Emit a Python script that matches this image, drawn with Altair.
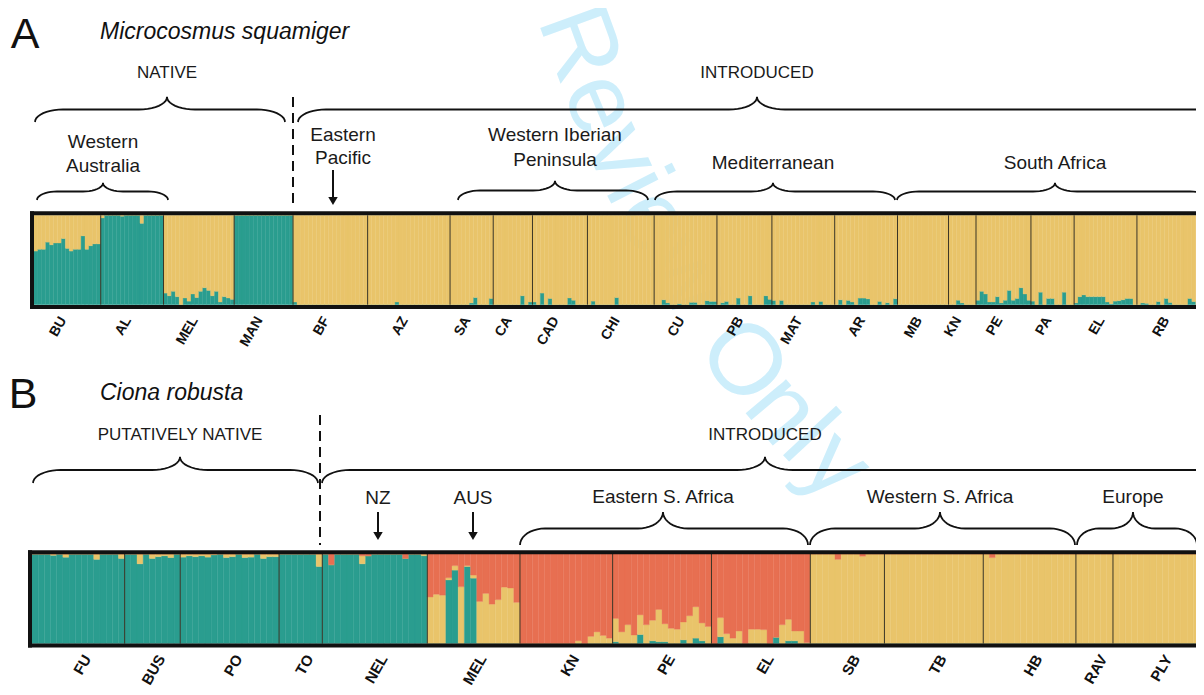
import altair as alt
import pandas as pd

# ---------------- colours ----------------
CLUSTERS = ["green", "yellow", "red"]
CLUSTER_COLORS = ["#2A9D8F", "#E9C46A", "#E76F51"]

# ---------------- Panel A: Microcosmus squamiger (K = 2) ----------------
A_pops = ["BU", "AL", "MEL", "MAN", "BF", "AZ", "SA", "CA", "CAD", "CHI",
          "CU", "PB", "MAT", "AR", "MB", "KN", "PE", "PA", "EL", "RB"]
# proportion of the green cluster for every individual (rest = yellow)
A_green = [
    [0.60, 0.62, 0.62, 0.70, 0.67, 0.69, 0.69, 0.74, 0.63, 0.60, 0.62, 0.62, 0.77, 0.62, 0.66, 0.68, 0.68],  # BU
    [0.97, 1, 1, 1, 1, 0.99, 1, 1, 1, 1, 0.91, 1, 1, 1, 1, 1],  # AL
    [0.13, 0.10, 0.15, 0.09, 0.0, 0.075, 0.04, 0.12, 0.08, 0.15, 0.19, 0.16, 0.10, 0.15, 0.03, 0.09, 0.075, 0.06],  # MEL
    [1, 1, 1, 1, 1, 1, 1, 1, 1, 1, 1, 1, 1, 1, 1],  # MAN
    [0.03, 0, 0, 0, 0, 0, 0, 0, 0, 0, 0, 0, 0, 0, 0, 0, 0, 0, 0],  # BF
    [0, 0, 0, 0, 0, 0, 0, 0.03, 0, 0, 0, 0, 0, 0, 0, 0, 0, 0, 0, 0, 0],  # AZ
    [0, 0, 0, 0, 0, 0.02, 0.08, 0, 0, 0, 0.07],  # SA
    [0, 0, 0, 0, 0, 0, 0, 0.10, 0, 0.03],  # CA
    [0.03, 0, 0.13, 0, 0.07, 0, 0, 0, 0, 0.075, 0.05, 0, 0, 0],  # CAD
    [0, 0.04, 0, 0, 0, 0, 0, 0.08, 0, 0, 0, 0, 0, 0, 0, 0, 0],  # CHI
    [0, 0, 0.055, 0.02, 0, 0, 0.01, 0, 0, 0.026, 0.026, 0, 0, 0.045, 0.037, 0.037],  # CU
    [0, 0.022, 0.037, 0, 0, 0.074, 0, 0, 0.10, 0, 0, 0, 0.10, 0.06],  # PB
    [0.048, 0, 0.048, 0, 0, 0, 0, 0, 0, 0, 0.03, 0, 0.037, 0, 0, 0],  # MAT
    [0, 0.055, 0, 0.048, 0.03, 0, 0.074, 0.074, 0.065, 0, 0, 0.037, 0, 0.022, 0, 0.067],  # AR
    [0, 0, 0, 0, 0, 0, 0, 0, 0, 0, 0, 0, 0],  # MB
    [0, 0, 0.05, 0.02, 0, 0, 0],  # KN
    [0.05, 0.15, 0.12, 0.03, 0.03, 0.09, 0.02, 0.05, 0.16, 0.05, 0.07, 0.19, 0.12, 0.05],  # PE
    [0.04, 0, 0.14, 0, 0.07, 0.07, 0, 0, 0.14, 0, 0],  # PA
    [0.02, 0.09, 0.11, 0.09, 0.09, 0.09, 0.09, 0.09, 0.03, 0.01, 0.04, 0.045, 0.055, 0.07, 0.07, 0],  # EL
    [0, 0.02, 0.015, 0, 0, 0.035, 0, 0.07, 0.025, 0, 0, 0, 0, 0.07, 0.035, 0, 0.05],  # RB
]

# ---------------- Panel B: Ciona robusta (K = 3) ----------------
B_pops = ["FU", "BUS", "PO", "TO", "NEL", "MEL", "KN", "PE", "EL",
          "SB", "TB", "HB", "RAV", "PLY"]
B_green = [
    [1, 1, 1, 0.985, 1, 0.965, 1, 1, 1, 1, 0.94, 1, 1, 1, 0.95],  # FU
    [1, 1, 0.89, 1, 0.95, 0.97, 0.98, 0.96, 1],  # BUS
    [0.965, 0.98, 0.97, 0.98, 0.965, 0.99, 1, 0.96, 0.97, 1, 0.96, 0.965, 1, 0.95, 0.97, 0.97],  # PO
    [1, 1, 1, 1, 1, 1, 0.86],  # TO
    [1, 0.88, 1, 1, 1, 1, 0.89, 0.98, 1, 1, 1, 1, 1, 0.95, 1, 1, 0.98],  # NEL
    [0, 0, 0, 0.71, 0.82, 0, 0.86, 0.73, 0, 0, 0, 0, 0, 0, 0],  # MEL
    [0, 0, 0, 0, 0, 0, 0, 0, 0, 0, 0, 0, 0, 0, 0],  # KN
    [0.02, 0, 0, 0, 0.10, 0, 0.03, 0.02, 0.02, 0, 0, 0.04, 0, 0.06, 0.03, 0],  # PE
    [0, 0.075, 0, 0, 0, 0, 0, 0, 0, 0, 0.07, 0, 0.03, 0.03, 0, 0],  # EL
    [0, 0, 0, 0, 0, 0, 0, 0, 0, 0, 0, 0],  # SB
    [0, 0, 0, 0, 0, 0, 0, 0, 0, 0, 0, 0, 0, 0, 0, 0],  # TB
    [0, 0, 0, 0, 0, 0, 0, 0, 0, 0, 0, 0, 0, 0, 0],  # HB
    [0, 0, 0, 0, 0, 0],  # RAV
    [0, 0, 0, 0, 0, 0, 0, 0, 0, 0, 0, 0, 0, 0, 0],  # PLY
]
B_yellow = [
    [0, 0, 0, 0.015, 0, 0.035, 0, 0, 0, 0, 0.06, 0, 0, 0, 0.05],  # FU
    [0, 0, 0.11, 0, 0.05, 0.03, 0.02, 0.04, 0],  # BUS
    [0.035, 0.02, 0.03, 0.02, 0.035, 0.01, 0, 0.04, 0.03, 0, 0.04, 0.035, 0, 0.05, 0.03, 0.03],  # PO
    [0, 0, 0, 0, 0, 0, 0.14],  # TO
    [0, 0, 0, 0, 0, 0, 0.09, 0, 0, 0, 0, 0, 0, 0, 0, 0, 0.02],  # NEL
    [0.52, 0.55, 0.54, 0.025, 0.05, 0.635, 0.01, 0.035, 0.47, 0.56, 0.44, 0.49, 0.63, 0.62, 0.46],  # MEL
    [0, 0, 0, 0, 0, 0, 0, 0, 0, 0.03, 0, 0.08, 0.13, 0.09, 0.06],  # KN
    [0.26, 0.13, 0.21, 0.095, 0.22, 0.21, 0.23, 0.36, 0.20, 0.17, 0.16, 0.20, 0.31, 0.35, 0.20, 0.19],  # PE
    [0, 0.215, 0.11, 0.06, 0.14, 0, 0.16, 0.16, 0.155, 0, 0, 0.21, 0.24, 0.11, 0.14, 0.01],  # EL
    [1, 1, 1, 1, 0.94, 1, 1, 1, 0.975, 1, 1, 1],  # SB
    [1, 1, 1, 1, 1, 1, 1, 1, 1, 1, 1, 1, 1, 1, 1, 1],  # TB
    [1, 0.96, 1, 1, 1, 1, 1, 1, 1, 1, 1, 1, 1, 1, 1],  # HB
    [1, 1, 1, 1, 1, 1],  # RAV
    [1, 1, 1, 1, 1, 1, 1, 1, 1, 1, 1, 1, 1, 1, 1],  # PLY
]

# ---------------- watermark letters (reference pixels, curved) ----------------
WM_letters = ["R", "e", "v", "i", "e", "w", "O", "n", "l", "y"]
WM_x = [578, 600, 621, 636, 654, 686, 742, 782, 808, 836]
WM_y = [44, 104, 153, 186, 221, 276, 362, 410, 438, 466]
WM_angle = [70, 67, 65, 63, 60, 57, 53, 50, 47, 45]

# ---------------- layout (reference pixel placement) ----------------
W, H = 1188, 679          # single plot area, page offset 8px
PX0, PY0, PX1, PY1 = 8, 8, 8 + W, 8 + H
FONT = "Liberation Sans"


def mk_fx(x0, w):
    return lambda px: (px - x0) / w


def mk_fy(y0, h):
    return lambda py: (y0 - py) / h


fxA, fyA = mk_fx(34, 3.925), mk_fy(304.7, 89.4)
fxB, fyB = mk_fx(32, 6.177), mk_fy(643.5, 89.5)


def scales(fx, fy):
    xs = alt.Scale(domain=[fx(PX0), fx(PX1)], nice=False, zero=False)
    ys = alt.Scale(domain=[fy(PY1), fy(PY0)], nice=False, zero=False)
    return xs, ys


color_scale = alt.Scale(domain=CLUSTERS, range=CLUSTER_COLORS)


def brace_points(x0, x1, xm, ytip, yend, r, n=10):
    """Points of an over-brace in reference pixels."""
    import math
    ymid = (ytip + yend) / 2.0
    h1 = yend - ymid
    h2 = ymid - ytip
    pts = []
    for k in range(n + 1):
        t = math.pi / 2 * k / n
        pts.append((x0 + r * (1 - math.cos(t)), yend - h1 * math.sin(t)))
    for k in range(n + 1):
        t = math.pi / 2 * k / n
        pts.append((xm - r + r * math.sin(t), ymid - h2 * (1 - math.cos(t))))
    for k in range(n + 1):
        t = math.pi / 2 * k / n
        pts.append((xm + r - r * math.cos(t), ytip + h2 * math.sin(t)))
    for k in range(n + 1):
        t = math.pi / 2 * k / n
        pts.append((x1 - r + r * math.sin(t), ymid + h1 * (1 - math.cos(t))))
    return pts


def panel(pops, seg_rows, n_per_pop, fx, fy, bw, cfg):
    xs, ys = scales(fx, fy)
    X = lambda f: alt.X(f, type="quantitative", scale=xs, axis=None)
    Y = lambda f: alt.Y(f, type="quantitative", scale=ys, axis=None)

    layers = []

    if cfg.get("watermark"):
        wm = alt.Chart(pd.DataFrame({
            "x": [fx(v) for v in WM_x], "y": [fy(v) for v in WM_y],
            "t": WM_letters, "a": WM_angle})).mark_text(
            fontSize=100, font=FONT, color="#cdeefb", align="center", baseline="middle"
        ).encode(x=X("x"), y=Y("y"), text="t:N", angle=alt.Angle("a:Q", scale=None))
        layers.append(wm)

    bars = alt.Chart(pd.DataFrame(seg_rows)).mark_rect(clip=True, strokeWidth=0.35).encode(
        x=X("x"), x2="x2", y=Y("y"), y2="y2",
        color=alt.Color("k:N", scale=color_scale, legend=None),
        stroke=alt.Stroke("k:N", scale=color_scale, legend=None),
    )
    layers.append(bars)

    starts, c = [], 0
    for n in n_per_pop:
        starts.append(c)
        c += n
    centers = [s + n / 2 for s, n in zip(starts, n_per_pop)]

    sep = alt.Chart(pd.DataFrame({"x": starts[1:], "y": [0] * (len(starts) - 1),
                                  "y2": [1] * (len(starts) - 1)})).mark_rule(
        color="#3a3526", strokeWidth=1, clip=True).encode(x=X("x"), y=Y("y"), y2="y2")
    layers.append(sep)

    bt, bb, bl = cfg["border"]
    border = alt.Chart(pd.DataFrame({
        "x": [fx(bl - 2), fx(bl - 2), fx(bl)],
        "x2": [fx(PX1 + 20), fx(PX1 + 20), fx(bl)],
        "y": [fy(bt), fy(bb), fy(bt - 2)],
        "y2": [fy(bt), fy(bb), fy(bb + 2)],
    })).mark_rule(color="#111111", strokeWidth=4, clip=True).encode(
        x=X("x"), x2="x2", y=Y("y"), y2="y2")
    layers.append(border)

    ly, loff, lsize = cfg["labels"]
    labels = alt.Chart(pd.DataFrame({"x": [c + loff / bw for c in centers],
                                     "y": [fy(ly)] * len(pops), "t": pops})).mark_text(
        angle=300, align="right", baseline="middle", fontWeight="bold", fontSize=lsize,
        font=FONT, color="#111111"
    ).encode(x=X("x"), y=Y("y"), text="t:N")
    layers.append(labels)

    txt = cfg["texts"]
    texts = alt.Chart(pd.DataFrame({
        "x": [fx(t[0]) for t in txt], "y": [fy(t[1]) for t in txt],
        "t": [t[2] for t in txt], "fs": [t[3] for t in txt]})).mark_text(
        align="center", baseline="middle", font=FONT, color="#1a1a1a"
    ).encode(x=X("x"), y=Y("y"), text="t:N", size=alt.Size("fs:Q", scale=None))
    layers.append(texts)

    tx, ty, ttext = cfg["title"]
    title = alt.Chart(pd.DataFrame({"x": [fx(tx)], "y": [fy(ty)], "t": [ttext]})).mark_text(
        align="left", baseline="middle", font=FONT, fontStyle="italic", fontSize=23, color="#111111"
    ).encode(x=X("x"), y=Y("y"), text="t:N")
    layers.append(title)

    lx, lyy, ltext = cfg["letter"]
    letter = alt.Chart(pd.DataFrame({"x": [fx(lx)], "y": [fy(lyy)], "t": [ltext]})).mark_text(
        align="center", baseline="middle", font=FONT, fontSize=43, color="#111111"
    ).encode(x=X("x"), y=Y("y"), text="t:N")
    layers.append(letter)

    rows = []
    for bi, b in enumerate(cfg["braces"]):
        for k, (px, py) in enumerate(brace_points(*b)):
            rows.append({"x": fx(px), "y": fy(py), "b": bi, "o": k})
    braces = alt.Chart(pd.DataFrame(rows)).mark_line(
        color="#111111", strokeWidth=1.8, clip=True
    ).encode(x=X("x"), y=Y("y"), detail="b:N", order="o:Q")
    layers.append(braces)

    dx_, dy0, dy1 = cfg["dash"]
    dash = alt.Chart(pd.DataFrame({"x": [fx(dx_)], "y": [fy(dy0)], "y2": [fy(dy1)]})).mark_rule(
        color="#111111", strokeWidth=2, strokeDash=[10, 6]
    ).encode(x=X("x"), y=Y("y"), y2="y2")
    layers.append(dash)

    arr = cfg["arrows"]
    shafts = alt.Chart(pd.DataFrame({
        "x": [fx(a[0]) for a in arr], "y": [fy(a[1]) for a in arr],
        "y2": [fy(a[2] - 6) for a in arr]})).mark_rule(color="#111111", strokeWidth=2).encode(
        x=X("x"), y=Y("y"), y2="y2")
    heads = alt.Chart(pd.DataFrame({
        "x": [fx(a[0]) for a in arr], "y": [fy(a[2] - 5) for a in arr]})).mark_point(
        shape="triangle-down", filled=True, size=90, color="#111111", opacity=1).encode(
        x=X("x"), y=Y("y"))
    layers += [shafts, heads]

    return alt.layer(*layers)


def rows_A():
    rows, i = [], 0
    for vals in A_green:
        for g in vals:
            rows.append({"x": i, "x2": i + 1, "y": 0, "y2": g, "k": "green"})
            rows.append({"x": i, "x2": i + 1, "y": g, "y2": 1, "k": "yellow"})
            i += 1
    return rows


def rows_B():
    rows, i = [], 0
    for gs, yls in zip(B_green, B_yellow):
        for g, yv in zip(gs, yls):
            rows.append({"x": i, "x2": i + 1, "y": 0, "y2": g, "k": "green"})
            rows.append({"x": i, "x2": i + 1, "y": g, "y2": g + yv, "k": "yellow"})
            rows.append({"x": i, "x2": i + 1, "y": g + yv, "y2": 1, "k": "red"})
            i += 1
    return rows


cfgA = {
    "watermark": True,
    "border": (213.3, 307, 32),
    "labels": (318, -4, 14),
    "texts": [
        (167, 73, "NATIVE", 17), (757, 73, "INTRODUCED", 17),
        (103, 142, "Western", 19), (103, 166, "Australia", 19),
        (343, 135, "Eastern", 19), (343, 158, "Pacific", 19),
        (555, 135, "Western Iberian", 19), (555, 160, "Peninsula", 19),
        (773, 163, "Mediterranean", 19), (1055, 163, "South Africa", 19),
    ],
    "title": (100, 32, "Microcosmus squamiger"),
    "letter": (25, 35, "A"),
    "braces": [
        (35, 285, 167, 97, 122, 28),
        (298, 1260, 757, 97, 122, 28),
        (37, 168, 103, 183, 200, 20),
        (458, 648, 555, 181, 200, 22),
        (655, 895, 773, 183, 200, 22),
        (897, 1212, 1055, 183, 200, 22),
    ],
    "dash": (293, 97, 203),
    "arrows": [(333, 170, 206)],
}

cfgB = {
    "border": (552.3, 645.5, 30),
    "labels": (656, 9, 15),
    "texts": [
        (180, 435, "PUTATIVELY NATIVE", 17), (765, 435, "INTRODUCED", 17),
        (378, 498, "NZ", 19), (473, 498, "AUS", 19),
        (663, 497, "Eastern S. Africa", 19), (940, 497, "Western S. Africa", 19),
        (1133, 497, "Europe", 19),
    ],
    "title": (100, 393, "Ciona robusta"),
    "letter": (23, 395, "B"),
    "braces": [
        (33, 318, 180, 457, 483, 28),
        (322, 1260, 765, 457, 483, 28),
        (520, 808, 663, 512, 545, 25),
        (810, 1075, 940, 512, 545, 25),
        (1077, 1197, 1133, 512, 545, 22),
    ],
    "dash": (320, 415, 545),
    "arrows": [(378, 512, 541), (473, 512, 541)],
}

panelA = panel(A_pops, rows_A(), [len(v) for v in A_green], fxA, fyA, 3.925, cfgA)
panelB = panel(B_pops, rows_B(), [len(v) for v in B_green], fxB, fyB, 6.177, cfgB)

chart = alt.layer(panelA, panelB).resolve_scale(
    x="independent", y="independent"
).properties(
    width=W, height=H, padding=0, autosize=alt.AutoSizeParams(type="none")
).configure_view(strokeWidth=0)

chart.save("out.html", embed_options={"renderer": "svg", "actions": False})
